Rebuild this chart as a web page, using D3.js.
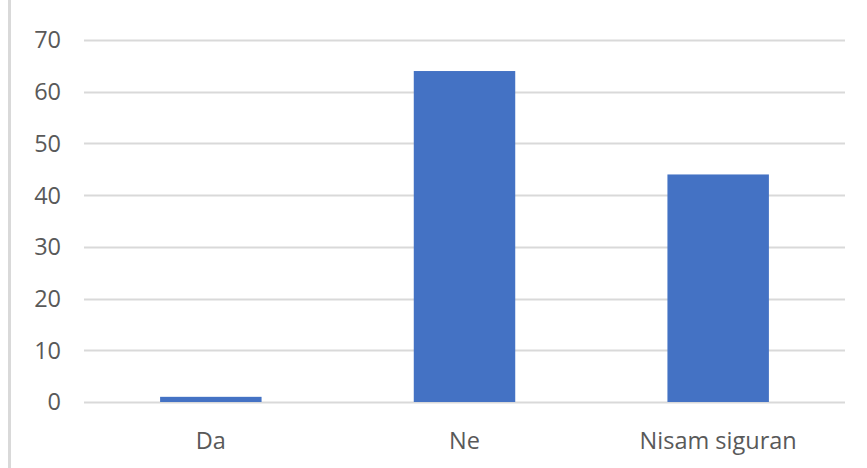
<!DOCTYPE html>
<html><head><meta charset="utf-8">
<script src="https://cdn.jsdelivr.net/npm/d3@7"></script>
<style>html,body{margin:0;padding:0;background:#fff;}</style>
</head><body>
<svg id="c" width="867" height="468"></svg>
<script>
const categories = ["Da", "Ne", "Nisam siguran"];
const values = [1, 64, 44];
const yTicks = [0, 10, 20, 30, 40, 50, 60, 70];

(function () {
const svg = d3.select("#c");
const mLeft = 84, mRight = 845, mTop = 40, mBottom = 402;
const x = d3.scaleBand().domain(categories).range([mLeft, mRight]).padding(0);
const y = d3.scaleLinear().domain([0, 70]).range([mBottom, mTop]);
const font = "'Open Sans', 'Noto Sans', sans-serif";

svg.append("line").attr("x1", 9.5).attr("x2", 9.5).attr("y1", 0).attr("y2", 468)
  .attr("stroke", "#d9d9d9").attr("stroke-width", 3);

svg.append("g").selectAll("line").data(yTicks).join("line")
  .attr("x1", mLeft).attr("x2", mRight)
  .attr("y1", d => Math.round(y(d)) + 0.5).attr("y2", d => Math.round(y(d)) + 0.5)
  .attr("stroke", "#d9d9d9").attr("stroke-width", 2);

svg.append("g").selectAll("text").data(yTicks).join("text")
  .attr("x", 61).attr("y", d => y(d)).attr("dy", "0.36em")
  .attr("text-anchor", "end").attr("fill", "#595959")
  .style("font-family", font).style("font-size", "23.5px")
  .text(d => d);

const bw = x.bandwidth() * 0.4;
svg.append("g").selectAll("rect").data(values).join("rect")
  .attr("x", (d, i) => x(categories[i]) + x.bandwidth() / 2 - bw / 2)
  .attr("width", bw)
  .attr("y", d => y(d))
  .attr("height", d => y(0) - y(d))
  .attr("fill", "#4472c4");

svg.append("g").selectAll("text").data(categories).join("text")
  .attr("x", d => x(d) + x.bandwidth() / 2).attr("y", 449)
  .attr("text-anchor", "middle").attr("fill", "#595959")
  .style("font-family", font).style("font-size", "23.5px")
  .text(d => d);
})();
</script>
</body></html>
